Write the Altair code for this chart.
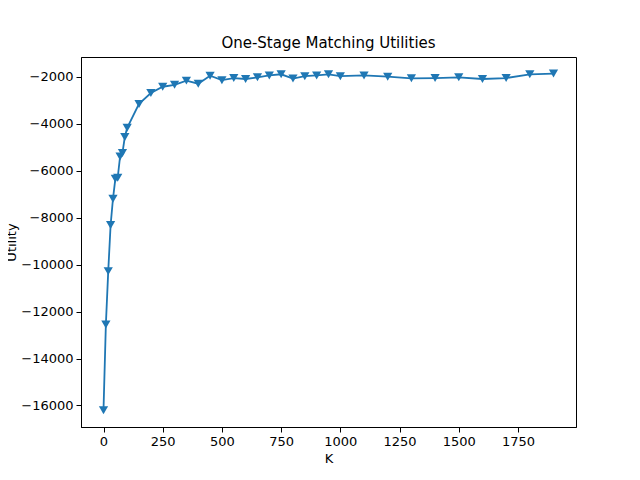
import pandas as pd
import altair as alt

k_values = [0, 10, 20, 30, 40, 50, 60, 70, 80, 90, 100, 150, 200, 250, 300, 350, 400,
            450, 500, 550, 600, 650, 700, 750, 800, 850, 900, 950, 1000, 1100, 1200,
            1300, 1400, 1500, 1600, 1700, 1800, 1900]
utility = [-16200, -12550, -10280, -8320, -7200, -6350, -6300, -5400, -5250, -4570,
           -4180, -3160, -2700, -2430, -2350, -2170, -2300, -1960, -2150, -2060,
           -2100, -2030, -1950, -1900, -2080, -1980, -1950, -1900, -1980, -1950,
           -2000, -2070, -2060, -2030, -2100, -2060, -1900, -1870]

df = pd.DataFrame({"K": k_values, "Utility": utility})

x = alt.X("K:Q", title="K", scale=alt.Scale(domain=[-95, 1995], nice=False, zero=False),
          axis=alt.Axis(values=list(range(0, 2000, 250)), grid=False, format="d"))
y = alt.Y("Utility:Q", title="Utility", scale=alt.Scale(domain=[-16916, -1164], nice=False, zero=False),
          axis=alt.Axis(values=list(range(-16000, -1999, 2000)), grid=False, format="d",
                        titlePadding=2))

line = alt.Chart(df).mark_line(color="#1f77b4", strokeWidth=1.8).encode(x=x, y=y)
points = alt.Chart(df).mark_point(shape="triangle-down", filled=True, opacity=1,
                                  color="#1f77b4", size=85).encode(x=x, y=y)

chart = (line + points).properties(
    width=495, height=370,
    autosize=alt.AutoSizeParams(type="none"),
    padding={"left": 73, "top": 49, "right": 56, "bottom": 45},
    title=alt.Title("One-Stage Matching Utilities", fontSize=15, fontWeight="normal",
                    font="DejaVu Sans", offset=6),
).configure_view(stroke="black", strokeWidth=1).configure_axis(
    labelFont="DejaVu Sans", titleFont="DejaVu Sans", labelFontSize=13, titleFontSize=13,
    titleFontWeight="normal", labelColor="black", titleColor="black",
    domainColor="black", tickColor="black", tickSize=5, labelPadding=3
)

chart.save("out.html", embed_options={"renderer": "svg", "actions": False})
